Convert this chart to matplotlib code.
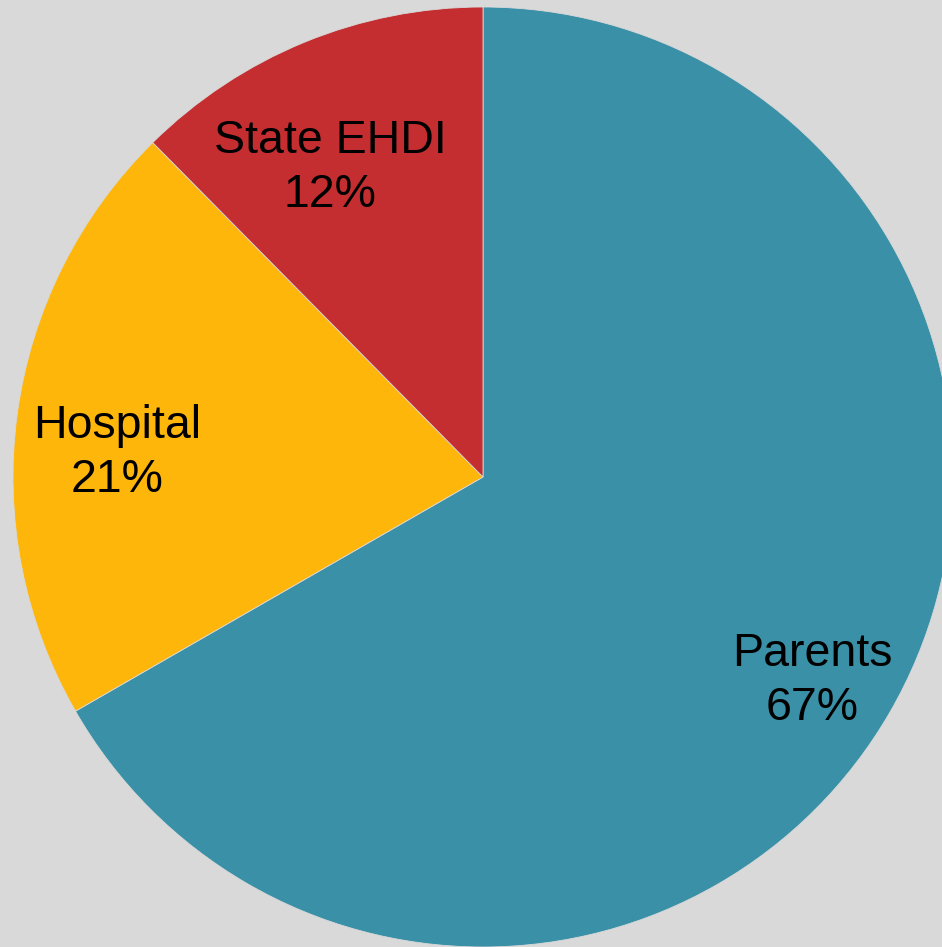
import matplotlib
matplotlib.use("Agg")
import matplotlib.pyplot as plt
import matplotlib.transforms as mtransforms
import numpy as np

categories = ["Parents", "Hospital", "State EHDI"]
values = [66.7, 20.9, 12.4]
colors = ["#3A90A6", "#FFB60B", "#C42E30"]
label_radius = [0.82, 0.78, 0.74]
label_angle_shift = [-1.3, 3.4, 3.7]

bg = "#D9D9D9"
fig = plt.figure(figsize=(9.42, 9.47), dpi=100, facecolor=bg)
W, H = 942, 947
cx, cy, R = 483, 477, 470
ax = fig.add_axes([(cx - R) / W, (H - cy - R) / H, 2 * R / W, 2 * R / H])
ax.set_facecolor(bg)

wedges, _ = ax.pie(values, colors=colors, startangle=90, counterclock=False,
                   radius=1.0, wedgeprops=dict(edgecolor=bg, linewidth=0.6))
total = sum(values)
trans = mtransforms.offset_copy(ax.transData, fig=fig, x=0, y=-3.5, units="dots")
for w, cat, v, r, s in zip(wedges, categories, values, label_radius, label_angle_shift):
    ang = np.deg2rad((w.theta1 + w.theta2) / 2 + s)
    ax.text(r * np.cos(ang), r * np.sin(ang), f"{cat}\n{v / total * 100:.0f}%",
            ha="center", va="center", fontsize=33.5, family="Liberation Sans",
            color="black", linespacing=1.3, transform=trans)
ax.set_xlim(-1, 1)
ax.set_ylim(-1, 1)
ax.axis("off")
fig.savefig("out.png", dpi=100, facecolor=bg)
